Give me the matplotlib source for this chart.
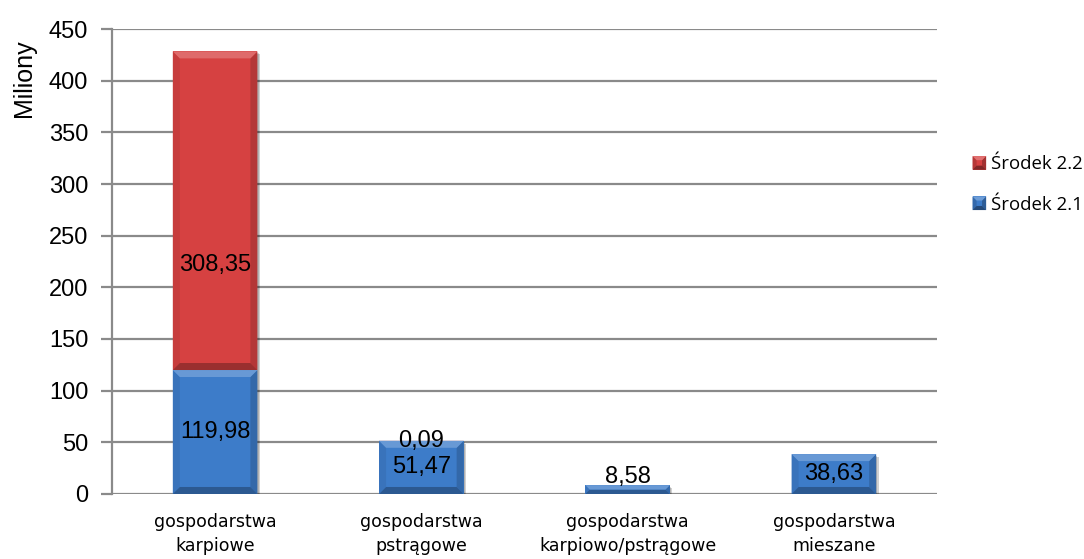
import matplotlib
matplotlib.use("Agg")
import matplotlib.pyplot as plt
from matplotlib.patches import Polygon, Rectangle, Patch
from matplotlib.legend_handler import HandlerPatch
import matplotlib.colors as mcolors

# Data (millions)
categories = ["gospodarstwa\nkarpiowe", "gospodarstwa\npstrągowe",
              "gospodarstwa\nkarpiowo/pstrągowe", "gospodarstwa\nmieszane"]
srodek_21 = [119.98, 51.47, 8.58, 38.63]
srodek_22 = [308.35, 0.09, 0.0, 0.0]
labels_21 = ["119,98", "51,47", "8,58", "38,63"]
labels_22 = ["308,35", "0,09", None, None]
yticks = [0, 50, 100, 150, 200, 250, 300, 350, 400, 450]

BLUE = "#3d7cc9"
RED = "#d64141"

fig = plt.figure(figsize=(10.84, 5.59), dpi=100)
ax = fig.add_axes([0.1033, 0.1163, 0.7611, 0.8318])

ax.set_xlim(-0.5, len(categories) - 0.5)
ax.set_ylim(0, 450)

bar_w = 0.41
xs = list(range(len(categories)))

b21 = ax.bar(xs, srodek_21, width=bar_w, color=BLUE, zorder=3, label="Środek 2.1")
b22 = ax.bar(xs, srodek_22, width=bar_w, bottom=srodek_21, color=RED, zorder=3,
             label="Środek 2.2")


def shade(c, f):
    r, g, b = mcolors.to_rgb(c)
    if f >= 1:
        return (r + (1 - r) * (f - 1), g + (1 - g) * (f - 1), b + (1 - b) * (f - 1))
    return (r * f, g * f, b * f)


def bevel(ax, rect, color, px=7):
    x0, y0 = rect.get_x(), rect.get_y()
    w, h = rect.get_width(), rect.get_height()
    if h <= 0:
        return
    x1, y1 = x0 + w, y0 + h
    trans = ax.transData
    p0 = trans.transform((x0, y0))
    p1 = trans.transform((x1, y1))
    sx = (p1[0] - p0[0]) / w
    sy = (p1[1] - p0[1]) / h
    hp = (p1[1] - p0[1])
    b = min(px, hp / 2.0)
    dx = b / sx
    dy = b / sy
    # drop shadow
    ax.add_patch(Rectangle((x0 + 2.5 / sx, y0 - 3 / sy), w, h, color="black",
                           alpha=0.18, lw=0, zorder=2.5))
    ax.add_patch(Rectangle((x0 + 1.2 / sx, y0 - 1.5 / sy), w, h, color="black",
                           alpha=0.15, lw=0, zorder=2.6))
    top = [(x0, y1), (x1, y1), (x1 - dx, y1 - dy), (x0 + dx, y1 - dy)]
    bot = [(x0, y0), (x1, y0), (x1 - dx, y0 + dy), (x0 + dx, y0 + dy)]
    left = [(x0, y0), (x0, y1), (x0 + dx, y1 - dy), (x0 + dx, y0 + dy)]
    right = [(x1, y0), (x1, y1), (x1 - dx, y1 - dy), (x1 - dx, y0 + dy)]
    for poly, f in ((left, 0.93), (right, 0.84), (bot, 0.72), (top, 1.22)):
        ax.add_patch(Polygon(poly, closed=True, color=shade(color, f), lw=0, zorder=3.1))


fig.canvas.draw()
for r in b21.patches:
    bevel(ax, r, BLUE)
for r in b22.patches:
    bevel(ax, r, RED)

# value labels
lab_font = dict(family="Liberation Sans", fontsize=17, color="black", zorder=5)
for i, (v, t) in enumerate(zip(srodek_21, labels_21)):
    if v < 15:
        ax.text(i, v - 3, t, ha="center", va="bottom", **lab_font)
    else:
        ax.text(i, v / 2.0, t, ha="center", va="center", **lab_font)
for i, (v, base, t) in enumerate(zip(srodek_22, srodek_21, labels_22)):
    if t is None:
        continue
    if v < 15:
        ax.text(i, base + v, t, ha="center", va="center", **lab_font)
    else:
        ax.text(i, base + v * 0.33, t, ha="center", va="center", **lab_font)

# axes styling
for s in ("top", "right", "bottom"):
    ax.spines[s].set_visible(False)
ax.spines["left"].set_color("#8a8a8a")
ax.spines["left"].set_linewidth(1.6)
ax.set_yticks(yticks)
ax.set_yticklabels([str(t) for t in yticks], family="Liberation Sans", fontsize=17)
ax.yaxis.grid(True, color="#8a8a8a", linewidth=1.6, zorder=1)
ax.set_axisbelow(True)
ax.tick_params(axis="y", length=8, width=1.6, color="#8a8a8a", pad=9)
ax.tick_params(axis="x", length=0, pad=14)
ax.set_xticks(xs)
ax.set_xticklabels(categories, family="DejaVu Sans", fontsize=12.5, linespacing=1.4)

fig.text(0.022, 0.86, "Miliony", rotation=90, ha="center", va="center",
         family="Liberation Sans", fontsize=18)


class BevelHandler(HandlerPatch):
    def create_artists(self, legend, orig_handle, xdescent, ydescent, width, height,
                       fontsize, trans):
        c = orig_handle.get_facecolor()
        s = min(width, height) * 1.0
        x0 = xdescent * -1 + (width - s) / 2
        y0 = -ydescent + (height - s) / 2
        b = s * 0.3
        arts = [Rectangle((x0, y0), s, s, facecolor=c, lw=0, transform=trans)]
        x1, y1 = x0 + s, y0 + s
        top = [(x0, y1), (x1, y1), (x1 - b, y1 - b), (x0 + b, y1 - b)]
        bot = [(x0, y0), (x1, y0), (x1 - b, y0 + b), (x0 + b, y0 + b)]
        left = [(x0, y0), (x0, y1), (x0 + b, y1 - b), (x0 + b, y0 + b)]
        right = [(x1, y0), (x1, y1), (x1 - b, y1 - b), (x1 - b, y0 + b)]
        for poly, f in ((left, 0.85), (right, 0.75), (bot, 0.6), (top, 1.25)):
            arts.append(Polygon(poly, closed=True, facecolor=shade(c[:3], f), lw=0,
                                transform=trans))
        return arts


handles = [Patch(facecolor=RED, label="Środek 2.2"), Patch(facecolor=BLUE, label="Środek 2.1")]
leg = fig.legend(handles=handles, loc="upper left", bbox_to_anchor=(0.897, 0.722),
                 frameon=False, prop=dict(family="Open Sans", size=13.4),
                 handler_map={Patch: BevelHandler()}, handlelength=0.75,
                 handleheight=0.75, handletextpad=0.25, labelspacing=1.2,
                 borderaxespad=0, borderpad=0)

fig.savefig("out.png", dpi=100)
